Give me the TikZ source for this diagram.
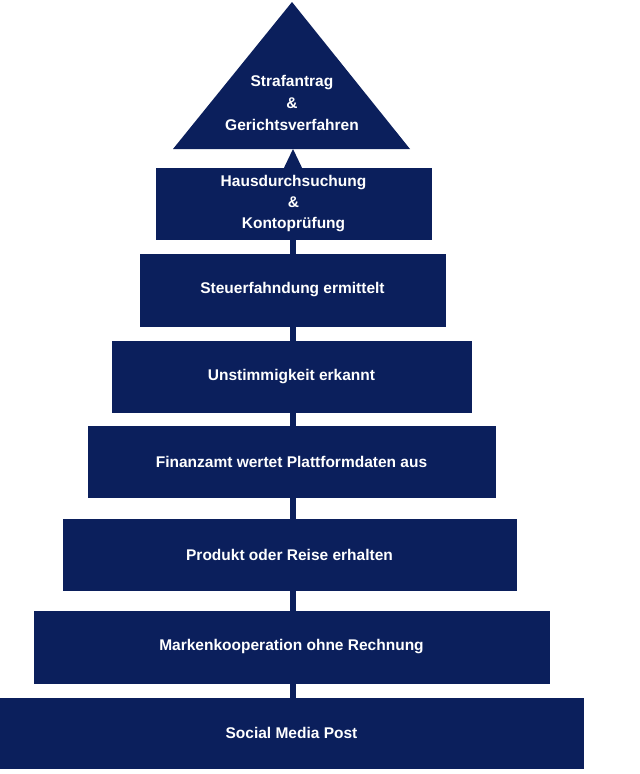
\documentclass[tikz,border=0pt]{standalone}
\usepackage{fontspec}
\setmainfont{Liberation Sans}
\usetikzlibrary{arrows.meta,calc}
\definecolor{navy}{HTML}{0B1F5C}
\begin{document}
\begin{tikzpicture}[x=1pt,y=-1pt,
  box/.style={fill=navy,draw=navy,text=white,font=\bfseries\fontsize{15.5}{21}\selectfont,align=center,inner sep=0pt},
  conn/.style={draw=navy,line width=6pt}]
\useasboundingbox (0,0) rectangle (640,774);
\node[box,minimum width=583,minimum height=70] (b1) at (291.5,733) {Social Media Post};
\node[box,minimum width=515,minimum height=72] (b2) at (291.5,647) {Markenkooperation ohne Rechnung};
\node[box,minimum width=453,minimum height=71] (b3) at (289.5,554.5) {Produkt oder Reise erhalten};
\node[box,minimum width=407,minimum height=71] (b4) at (291.5,461.5) {Finanzamt wertet Plattformdaten aus};
\node[box,minimum width=359,minimum height=71] (b5) at (291.5,376.5) {Unstimmigkeit erkannt};
\node[box,minimum width=305,minimum height=72] (b6) at (292.5,290) {Steuerfahndung ermittelt};
\node[box,minimum width=275,minimum height=71] (b7) at (293.5,203.5) {Hausdurchsuchung\\\&\\Kontoprüfung};
\fill[navy] (292,2) -- (410,149) -- (173,149) -- cycle;
\node[text=white,font=\bfseries\fontsize{15.5}{22}\selectfont,align=center] (t) at (292,103) {Strafantrag\\\&\\Gerichtsverfahren};
\coordinate (tb) at (293,149);
\draw[conn] (b1.north -| tb) -- (b2.south -| tb);
\draw[conn] (b2.north -| tb) -- (b3.south -| tb);
\draw[conn] (b3.north -| tb) -- (b4.south -| tb);
\draw[conn] (b4.north -| tb) -- (b5.south -| tb);
\draw[conn] (b5.north -| tb) -- (b6.south -| tb);
\draw[conn] (b6.north -| tb) -- (b7.south -| tb);
\fill[navy] ($(b7.north -| tb)+(-9,0)$) -- (tb) -- ($(b7.north -| tb)+(9,0)$) -- cycle;
\end{tikzpicture}
\end{document}
